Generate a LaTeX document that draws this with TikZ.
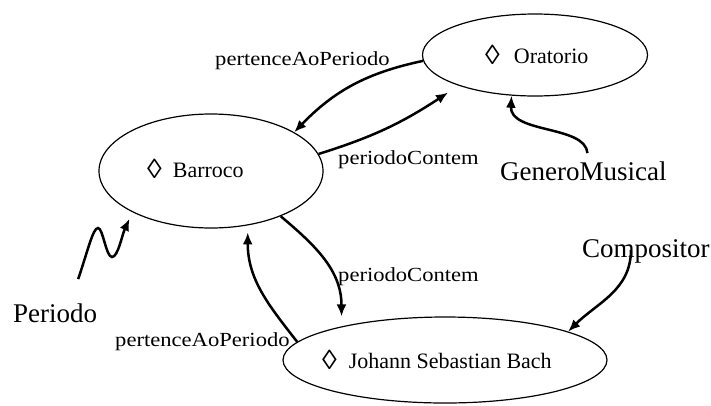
\documentclass[tikz,border=0pt]{standalone}
\usepackage{fontspec}
\setmainfont{Liberation Serif}
\newfontfamily\lblfont[FakeStretch=1.13]{Liberation Serif}
\usetikzlibrary{arrows.meta,shapes.geometric}
\newcommand{\lozg}{\raisebox{-1pt}{\scalebox{1.35}[1.25]{◊}}}
\tikzset{
  cls/.style={draw, ellipse, line width=1.2pt, inner sep=0pt},
  rel/.style={font=\lblfont\fontsize{20}{24}\selectfont, anchor=base west, inner sep=0pt},
  big/.style={font=\fontsize{27}{32}\selectfont, anchor=base west, inner sep=0pt},
  inst/.style={font=\fontsize{22}{26}\selectfont, anchor=base west, inner sep=0pt},
  conn/.style={line width=2.5pt, -{Latex[length=12pt,width=10pt]}},
}
\begin{document}
\begin{tikzpicture}[x=1pt,y=-1pt]
\useasboundingbox (0,0) rectangle (711,405);
% class ellipses
\node[cls, minimum width=224pt, minimum height=114pt] (bar) at (211,171) {};
\node[cls, minimum width=225pt, minimum height=82pt] (ora) at (535,55) {};
\node[cls, minimum width=324pt, minimum height=86pt] (bach) at (445,360) {};
% ellipse texts
\node[inst] (barT) at (147,177) {\lozg\hspace{11pt}Barroco};
\node[inst] (oraT) at (485,63) {\lozg\hspace{14pt}Oratorio};
\node[inst] (bachT) at (322,368) {\lozg\hspace{12pt}Johann Sebastian Bach};
% relation labels
\node[rel] (t1) at (215,65) {pertenceAoPeriodo};
\node[rel] (t2) at (338,164) {periodoContem};
\node[rel] (t3) at (338,281) {periodoContem};
\node[rel] (t4) at (115,346) {pertenceAoPeriodo};
% type labels
\node[big] (per) at (13,322) {Periodo};
\node[big] (gen) at (500,180) {GeneroMusical};
\node[big] (comp) at (582,257) {Compositor};
% connectors
\draw[conn] (ora.183) to[bend right=17] (bar.25);
\draw[conn] (bar.9) to[bend right=8] ([yshift=-11pt]ora.197);
\draw[conn] ([xshift=4pt,yshift=8pt]gen.north) .. controls +(-2,-28) and +(-2,38) .. (ora.240);
\draw[conn] ([xshift=23pt,yshift=24pt]per.north) .. controls (88,250) and (93,228) .. (98,228)
   .. controls (103,228) and (106,257) .. (112,257) .. controls (118,257) and (122,235) .. ([yshift=-8pt]bar.206);
\draw[conn] (bar.-33) to[out=-40,in=90] ([yshift=10pt]bach.162);
\draw[conn] (bach.173) to[out=128,in=-90] ([yshift=-7pt]bar.304);
\draw[conn] ([xshift=-15pt,yshift=13pt]comp.south) to[out=-90,in=45] (bach.13);
\end{tikzpicture}
\end{document}
